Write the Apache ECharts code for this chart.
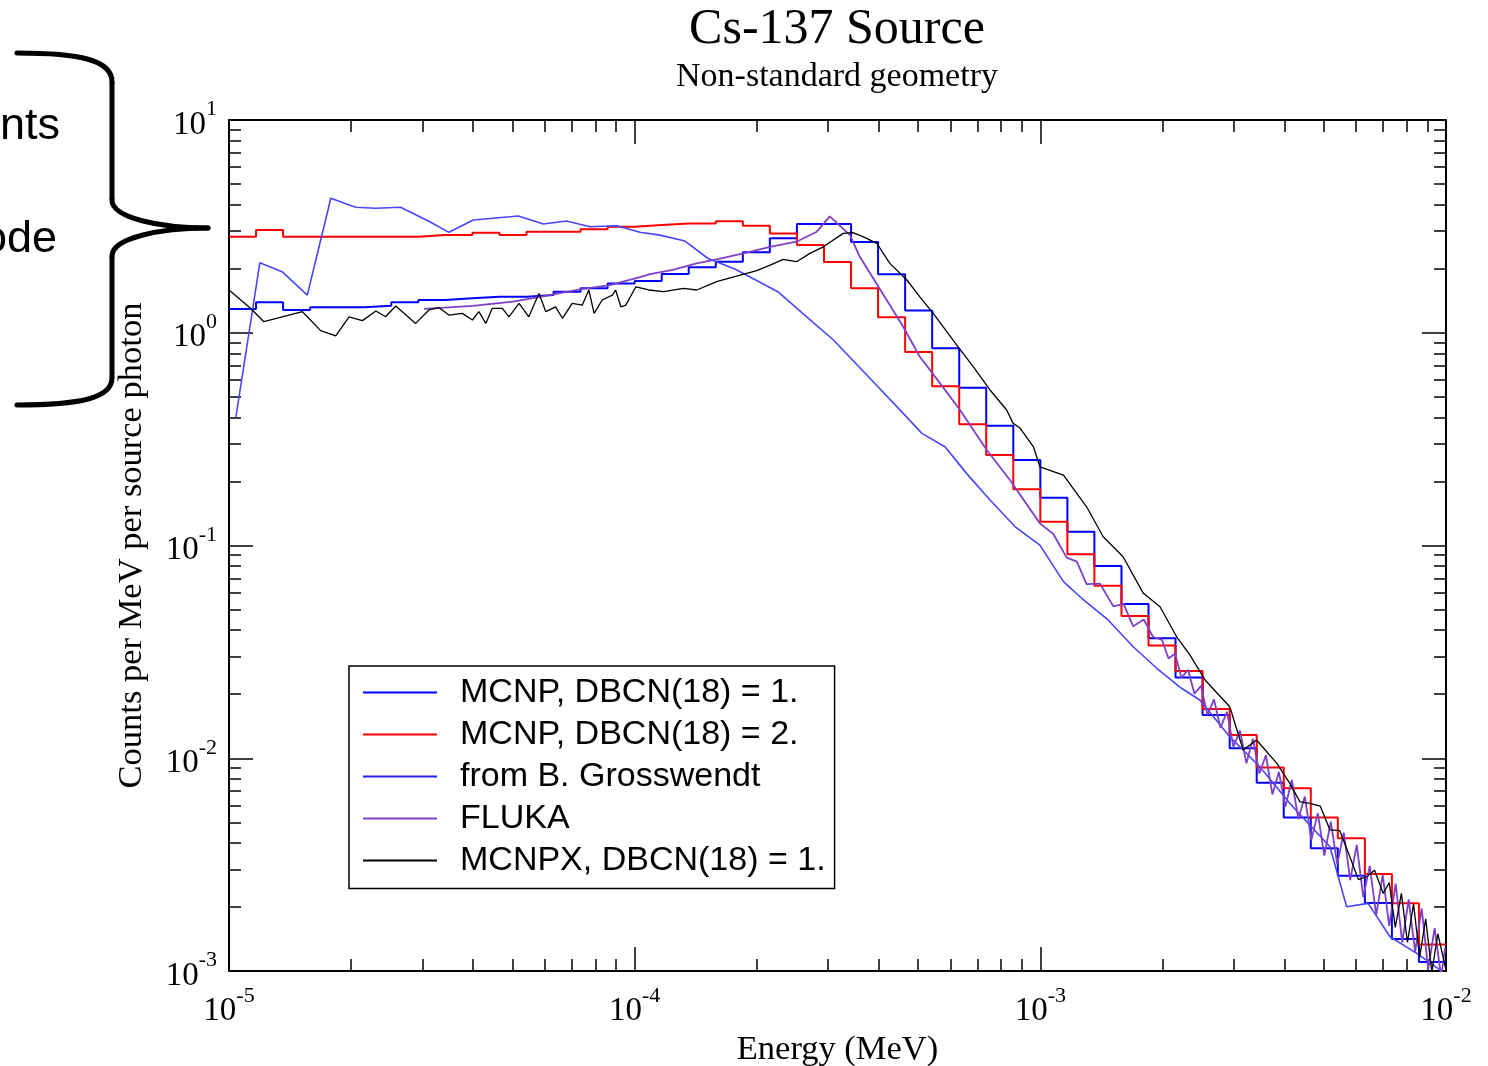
<!DOCTYPE html>
<html><head><meta charset="utf-8">
<script src="https://cdn.jsdelivr.net/npm/echarts@6/dist/echarts.min.js"></script>
<style>html,body{margin:0;padding:0;background:#fff}#c{width:1488px;height:1066px}</style>
</head><body><div id="c"></div>
<script>
// ---- data ----
// histogram bin edges (MeV), 15 log-uniform bins per decade
const binEdges = [
  1.000e-5,1.166e-5,1.359e-5,1.585e-5,1.848e-5,2.154e-5,2.512e-5,2.929e-5,3.415e-5,3.981e-5,4.642e-5,5.412e-5,6.310e-5,7.356e-5,8.577e-5,
  1.000e-4,1.166e-4,1.359e-4,1.585e-4,1.848e-4,2.154e-4,2.512e-4,2.929e-4,3.415e-4,3.981e-4,4.642e-4,5.412e-4,6.310e-4,7.356e-4,8.577e-4,
  1.000e-3,1.166e-3,1.359e-3,1.585e-3,1.848e-3,2.154e-3,2.512e-3,2.929e-3,3.415e-3,3.981e-3,4.642e-3,5.412e-3,6.310e-3,7.356e-3,8.577e-3,
  1.000e-2];
// log10(counts per MeV per source photon) per bin
const mcnp1LogCounts = [0.112,0.143,0.107,0.120,0.120,0.127,0.143,0.154,0.162,0.169,
  0.169,0.177,0.193,0.209,0.232,0.243,0.276,0.308,0.334,0.378,
  0.444,0.511,0.511,0.427,0.275,0.104,-0.073,-0.258,-0.437,-0.598,
  -0.775,-0.935,-1.096,-1.275,-1.436,-1.620,-1.797,-1.953,-2.115,-2.278,
  -2.423,-2.552,-2.680,-2.850,-2.958];
const mcnp2LogCounts = [0.451,0.483,0.451,0.451,0.451,0.451,0.451,0.459,0.459,0.470,
  0.459,0.475,0.475,0.486,0.498,0.506,0.514,0.514,0.524,0.503,
  0.467,0.412,0.333,0.209,0.073,-0.090,-0.252,-0.430,-0.575,-0.736,
  -0.888,-1.041,-1.189,-1.331,-1.470,-1.590,-1.769,-1.891,-2.043,-2.141,
  -2.278,-2.376,-2.544,-2.682,-2.875];
// curves: [log10(E / MeV), log10(counts)]
const grosswendtLog = [[-4.983,-0.396],[-4.924,0.329],[-4.869,0.287],[-4.807,0.177],[-4.749,0.632],[-4.688,0.590],[-4.638,0.585],[-4.577,0.590],[-4.505,0.522],[-4.458,0.472],
  [-4.398,0.530],[-4.287,0.549],[-4.225,0.511],[-4.168,0.525],[-4.110,0.498],[-4.044,0.503],[-3.987,0.472],[-3.938,0.459],[-3.876,0.431],[-3.819,0.349],
  [-3.753,0.300],[-3.647,0.193],[-3.576,0.075],[-3.510,-0.034],[-3.412,-0.230],[-3.338,-0.379],[-3.292,-0.473],[-3.235,-0.536],[-3.182,-0.661],[-3.124,-0.786],
  [-3.062,-0.912],[-3.001,-0.998],[-2.943,-1.170],[-2.898,-1.248],[-2.833,-1.350],[-2.771,-1.476],[-2.713,-1.577],[-2.652,-1.671],[-2.607,-1.726],[-2.533,-1.899],
  [-2.459,-2.040],[-2.385,-2.212],[-2.286,-2.416],[-2.245,-2.698],[-2.192,-2.682],[-2.138,-2.839],[-2.072,-2.917],[-2.015,-2.995]];
const flukaLog = [[-4.519,0.112],[-4.399,0.126],[-4.300,0.146],[-4.233,0.169],[-4.135,0.204],[-4.061,0.224],[-3.987,0.261],[-3.962,0.276],[-3.906,0.295],[-3.847,0.326],
  [-3.798,0.345],[-3.732,0.373],[-3.666,0.404],[-3.601,0.428],[-3.551,0.475],[-3.519,0.547],[-3.469,0.459],[-3.445,0.357],[-3.399,0.216],[-3.338,0.028],
  [-3.297,-0.113],[-3.247,-0.238],[-3.198,-0.363],[-3.132,-0.551],[-3.075,-0.692],[-3.001,-0.896],
  [-2.968,-0.946],[-2.935,-1.057],[-2.910,-1.076],[-2.886,-1.182],[-2.853,-1.179],[-2.820,-1.286],[-2.795,-1.274],[-2.771,-1.380],[-2.745,-1.348],[-2.722,-1.430],
  [-2.700,-1.444],[-2.684,-1.531],[-2.668,-1.508],[-2.652,-1.621],[-2.636,-1.584],[-2.620,-1.697],[-2.604,-1.660],[-2.588,-1.798],[-2.572,-1.723],[-2.556,-1.857],
  [-2.540,-1.782],[-2.524,-1.946],[-2.508,-1.870],[-2.492,-2.024],[-2.476,-1.908],[-2.460,-2.072],[-2.444,-1.986],[-2.428,-2.170],[-2.412,-2.064],[-2.396,-2.228],
  [-2.380,-2.102],[-2.364,-2.286],[-2.348,-2.180],[-2.332,-2.384],[-2.316,-2.258],[-2.300,-2.458],[-2.284,-2.298],[-2.268,-2.499],[-2.252,-2.349],[-2.236,-2.573],
  [-2.220,-2.407],[-2.204,-2.652],[-2.188,-2.506],[-2.172,-2.737],[-2.156,-2.548],[-2.140,-2.788],[-2.124,-2.589],[-2.108,-2.866],[-2.092,-2.663],[-2.076,-2.910],
  [-2.060,-2.706],[-2.044,-2.991],[-2.028,-2.799],[-2.012,-3.027],[-2.002,-2.890]];
const mcnpxLog = [[-5.000,0.201],[-4.947,0.115],[-4.914,0.052],[-4.819,0.099],[-4.774,0.010],[-4.737,-0.015],[-4.704,0.075],[-4.671,0.057],[-4.638,0.102],[-4.614,0.075],
  [-4.589,0.126],[-4.540,0.044],[-4.507,0.107],[-4.482,0.118],[-4.458,0.083],[-4.425,0.091],[-4.400,0.060],[-4.384,0.099],[-4.367,0.044],[-4.351,0.115],
  [-4.326,0.115],[-4.310,0.075],[-4.285,0.138],[-4.261,0.075],[-4.236,0.185],[-4.219,0.099],[-4.195,0.122],[-4.178,0.068],[-4.154,0.138],[-4.129,0.130],
  [-4.113,0.201],[-4.100,0.091],[-4.080,0.154],[-4.055,0.177],[-4.047,0.201],[-4.034,0.122],[-4.022,0.130],[-3.997,0.216],[-3.965,0.201],[-3.929,0.193],
  [-3.880,0.209],[-3.847,0.201],[-3.798,0.240],[-3.740,0.271],[-3.699,0.292],[-3.666,0.318],[-3.634,0.345],[-3.601,0.334],[-3.568,0.373],[-3.535,0.404],
  [-3.486,0.467],[-3.462,0.471],[-3.436,0.451],[-3.403,0.420],[-3.371,0.326],[-3.329,0.248],[-3.297,0.169],[-3.264,0.091],[-3.206,-0.058],[-3.165,-0.160],
  [-3.124,-0.269],[-3.083,-0.363],[-3.067,-0.426],[-3.050,-0.448],[-3.017,-0.536],[-3.001,-0.630],[-2.943,-0.669],[-2.886,-0.818],[-2.845,-0.959],[-2.796,-1.053],
  [-2.746,-1.225],[-2.705,-1.288],[-2.664,-1.429],[-2.631,-1.515],[-2.594,-1.632],[-2.533,-1.758],[-2.500,-1.961],[-2.467,-1.914],[-2.417,-2.024],[-2.385,-2.118],
  [-2.360,-2.205],[-2.335,-2.212],[-2.310,-2.225],[-2.286,-2.337],[-2.262,-2.340],[-2.237,-2.463],[-2.216,-2.570],[-2.196,-2.557],[-2.176,-2.526],[-2.155,-2.635],
  [-2.140,-2.585],[-2.125,-2.795],[-2.110,-2.635],[-2.095,-2.865],[-2.080,-2.685],[-2.065,-2.935],[-2.050,-2.755],[-2.035,-3.005],[-2.020,-2.825],[-2.000,-2.995]];

const seriesNames = ['MCNP, DBCN(18) = 1.','MCNP, DBCN(18) = 2.','from B. Grosswendt','FLUKA','MCNPX, DBCN(18) = 1.'];
const xMajorTicks = [1e-5, 1e-4, 1e-3, 1e-2];
const yMajorTicks = [1e-3, 1e-2, 1e-1, 1e0, 1e1];
const minorMantissas = [2,3,4,5,6,7,8,9];

// ---- build ----
const p10 = v => Math.pow(10, v);
function stepData(logs){
  const d = logs.map((v,i)=>[binEdges[i], p10(v)]);
  d.push([binEdges[binEdges.length-1], p10(logs[logs.length-1])]);
  return d;
}
const curve = arr => arr.map(p => [p10(p[0]), p10(p[1])]);
const minorX = [], minorY = [];
xMajorTicks.slice(0,-1).forEach(d => minorMantissas.forEach(m => minorX.push(m*d)));
yMajorTicks.slice(0,-1).forEach(d => minorMantissas.forEach(m => minorY.push(m*d)));

const serif = 'Liberation Serif';
const rich = {
  b:{fontFamily:serif, fontSize:33, color:'#000', lineHeight:43, verticalAlign:'bottom'},
  s:{fontFamily:serif, fontSize:22, color:'#000', lineHeight:22, verticalAlign:'top'}
};
const supLabel = v => '{b|10}{s|' + Math.round(Math.log10(v)) + '}';
const tickStyle = {color:'#000', width:1.5};

function mkAxis(kind, pos, major, opts){
  const isX = kind === 'x';
  const ax = {
    type:'log', logBase:10, gridIndex:0, position:pos,
    min: isX ? 1e-5 : 1e-3, max: isX ? 1e-2 : 1e1,
    axisLine:{show: major, onZero:false, lineStyle:{color:'#000', width:2}},
    axisTick:{show:true, inside:true, length: major ? 24 : 12,
      customValues: major ? (isX ? xMajorTicks : yMajorTicks) : (isX ? minorX : minorY),
      lineStyle:tickStyle},
    axisLabel:{show:false},
    splitLine:{show:false}, minorTick:{show:false}, minorSplitLine:{show:false},
    axisPointer:{show:false}
  };
  return Object.assign(ax, opts || {});
}
const nameStyle = {fontFamily:serif, fontSize:34.5, color:'#000'};

const chart = echarts.init(document.getElementById('c'), null, {renderer:'canvas'});
chart.setOption({
  animation:false,
  backgroundColor:'#fff',
  title:[
    {text:'Cs-137 Source', left:837, top:5, textAlign:'center', padding:0,
     textStyle:{fontFamily:serif, fontSize:50, fontWeight:'normal', color:'#000'}},
    {text:'Non-standard geometry', left:837, top:60, textAlign:'center', padding:0,
     textStyle:{fontFamily:serif, fontSize:34, fontWeight:'normal', color:'#000'}}
  ],
  grid:{left:229, right:42, top:120, bottom:95, containLabel:false, outerBoundsMode:'none'},
  xAxis:[
    mkAxis('x','bottom',true,{
      axisLabel:{show:true, customValues:xMajorTicks, formatter:supLabel, rich:rich, margin:14},
      name:'Energy (MeV)', nameLocation:'middle', nameGap:54, nameTextStyle:nameStyle}),
    mkAxis('x','bottom',false),
    mkAxis('x','top',true),
    mkAxis('x','top',false)
  ],
  yAxis:[
    mkAxis('y','left',true,{
      axisLabel:{show:true, customValues:yMajorTicks, formatter:supLabel, rich:rich, margin:12},
      name:'Counts per MeV per source photon', nameLocation:'middle', nameGap:80, nameRotate:90, nameTextStyle:nameStyle}),
    mkAxis('y','left',false),
    mkAxis('y','right',true),
    mkAxis('y','right',false)
  ],
  legend:{
    orient:'vertical', left:349, top:666, padding:[9.5,9,11,14], itemGap:8,
    itemWidth:74, itemHeight:2, icon:'rect', selectedMode:false,
    borderColor:'#000', borderWidth:1.5, backgroundColor:'#fff', borderRadius:0,
    textStyle:{fontFamily:'Liberation Sans', fontSize:34, color:'#000', lineHeight:33, padding:[0,0,0,18]},
    data:seriesNames
  },
  series:[
    {name:seriesNames[0], type:'line', step:'end', data:stepData(mcnp1LogCounts), symbol:'none',
     lineStyle:{color:'#0000ff', width:2}, itemStyle:{color:'#0000ff'}, z:3},
    {name:seriesNames[1], type:'line', step:'end', data:stepData(mcnp2LogCounts), symbol:'none',
     lineStyle:{color:'#ff0000', width:2}, itemStyle:{color:'#ff0000'}, z:3},
    {name:seriesNames[2], type:'line', data:curve(grosswendtLog), symbol:'none',
     lineStyle:{color:'#4646ff', width:1.6}, itemStyle:{color:'#2020f0'}, z:3},
    {name:seriesNames[3], type:'line', data:curve(flukaLog), symbol:'none',
     lineStyle:{color:'#7f40c8', width:1.8}, itemStyle:{color:'#7f40c8'}, z:3},
    {name:seriesNames[4], type:'line', data:curve(mcnpxLog), symbol:'none',
     lineStyle:{color:'#000', width:1.3}, itemStyle:{color:'#000'}, z:3}
  ],
  graphic:[
    {type:'bezierCurve', shape:{x1:17,y1:53,cpx1:80,cpy1:53,cpx2:112,cpy2:60,x2:112,y2:82}, style:{stroke:'#000', lineWidth:5, fill:null, lineCap:'round'}},
    {type:'line', shape:{x1:112,y1:82,x2:112,y2:200}, style:{stroke:'#000', lineWidth:5}},
    {type:'bezierCurve', shape:{x1:112,y1:200,cpx1:112,cpy1:218,cpx2:160,cpy2:228,x2:208,y2:228}, style:{stroke:'#000', lineWidth:5, fill:null, lineCap:'round'}},
    {type:'bezierCurve', shape:{x1:208,y1:228,cpx1:160,cpy1:228,cpx2:112,cpy2:238,x2:112,y2:256}, style:{stroke:'#000', lineWidth:5, fill:null, lineCap:'round'}},
    {type:'line', shape:{x1:112,y1:256,x2:112,y2:378}, style:{stroke:'#000', lineWidth:5}},
    {type:'bezierCurve', shape:{x1:112,y1:378,cpx1:112,cpy1:398,cpx2:80,cpy2:405,x2:17,y2:405}, style:{stroke:'#000', lineWidth:5, fill:null, lineCap:'round'}},
    {type:'text', x:0, y:127, style:{text:'nts', font:'45px "Liberation Sans"', fill:'#000', align:'left', verticalAlign:'middle'}},
    {type:'text', x:57, y:240, style:{text:'ode', font:'45px "Liberation Sans"', fill:'#000', align:'right', verticalAlign:'middle'}}
  ]
});
</script></body></html>
